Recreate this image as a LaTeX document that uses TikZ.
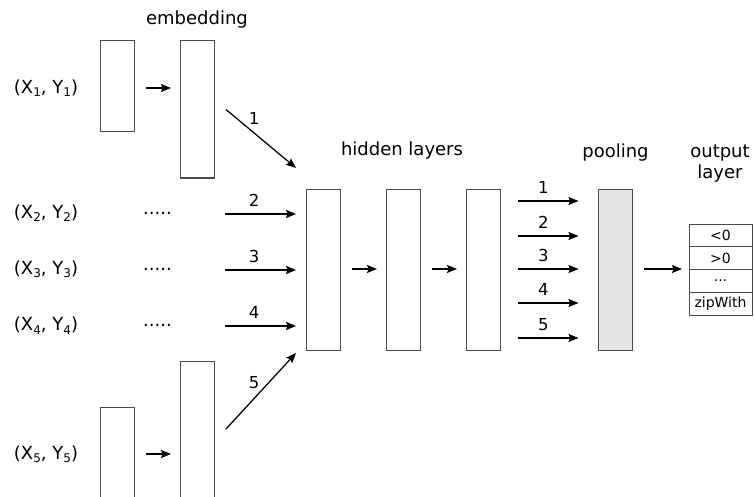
\documentclass[tikz,border=0pt]{standalone}
\usepackage{fontspec}
\setmainfont{DejaVu Sans}
\usetikzlibrary{arrows.meta}
% lowered, smaller index for the (X_i, Y_i) pairs
\newcommand\sbs[1]{\raisebox{-0.35ex}{\fontsize{12}{12}\selectfont #1}}

\begin{document}
\begin{tikzpicture}[x=1pt,y=-1pt,
  layerbox/.style={draw=black!70, line width=1pt, minimum width=34pt,
    inner sep=0pt, outer sep=0pt},
  arr/.style={-{Stealth[length=10pt,width=8pt,inset=1.5pt]}, line width=1.25pt},
  lbl/.style={font=\fontsize{18}{21}\selectfont},
  num/.style={font=\fontsize{16.5}{19}\selectfont, inner sep=0pt},
  cell/.style={draw=black!70, line width=1pt, minimum width=63pt,
    minimum height=22.75pt, inner sep=0pt, outer sep=0pt,
    font=\fontsize{14}{16}\selectfont}]
\useasboundingbox (0,0) rectangle (754,497);
\clip (0,0) rectangle (754,497);

% input pairs
\node[lbl] (x1) at (46,88) {(X\sbs1, Y\sbs1)};
\node[lbl] (x2) at (46,213) {(X\sbs2, Y\sbs2)};
\node[lbl] (x3) at (46,269.5) {(X\sbs3, Y\sbs3)};
\node[lbl] (x4) at (46,325.5) {(X\sbs4, Y\sbs4)};
\node[lbl] (x5) at (46,454) {(X\sbs5, Y\sbs5)};

% elided embeddings
\node[lbl, anchor=base] (d2) at (157.5,214) {.....};
\node[lbl, anchor=base] (d3) at (157.5,270) {.....};
\node[lbl, anchor=base] (d4) at (157.5,326) {.....};

% embedding columns
\node[lbl, anchor=base] (emb) at (197,25) {embedding};
\node[layerbox, minimum height=91pt] (s1) at (117,86.5) {};
\node[layerbox, minimum height=137pt] (e1) at (197,109.5) {};
\node[layerbox, minimum height=120pt] (s5) at (117,467) {};
\node[layerbox, minimum height=170pt] (e5) at (197,446) {};

% hidden layers and pooling
\node[lbl, anchor=base] (hid) at (402,156) {hidden layers};
\node[layerbox, minimum height=161pt] (h1) at (323,269.5) {};
\node[layerbox, minimum height=161pt] (h2) at (403,269.5) {};
\node[layerbox, minimum height=161pt] (h3) at (483,269.5) {};
\node[lbl, anchor=base] (pl) at (615.5,157.5) {pooling};
\node[layerbox, minimum height=161pt, fill=black!10] (pool) at (615.5,269.5) {};

% output layer table
\node[lbl, anchor=base] (ol1) at (720,158) {output};
\node[lbl, anchor=base] (ol2) at (720,178.5) {layer};
\node[cell] (o1) at (720.5,235.4) {<0};
\node[cell, anchor=north] (o2) at (o1.south) {>0};
\node[cell, anchor=north] (o3) at (o2.south) {...};
\node[cell, anchor=north] (o4) at (o3.south) {zipWith};

% start points of the middle input arrows
\coordinate (r2) at (225,214);
\coordinate (r3) at (225,270);
\coordinate (r4) at (225,326);

% connectors
\draw[arr, shorten <=12pt, shorten >=9pt] (s1.east |- x1) -- (e1.west |- x1);
\draw[arr, shorten <=12pt, shorten >=9pt] (s5.east |- x5) -- (e5.west |- x5);

\draw[arr] ([xshift=12pt]e1.east) -- ([xshift=-10pt,yshift=21pt]h1.north west)
  node[num, pos=0.4, above=8pt] {1};
\draw[arr, shorten >=10pt] (r2) -- (h1.west |- r2) node[num, pos=0.36, above=7pt] {2};
\draw[arr, shorten >=10pt] (r3) -- (h1.west |- r3) node[num, pos=0.36, above=7pt] {3};
\draw[arr, shorten >=10pt] (r4) -- (h1.west |- r4) node[num, pos=0.36, above=7pt] {4};
\draw[arr] ([xshift=12pt,yshift=-68pt]e5.north east) -- ([xshift=-10pt,yshift=-3pt]h1.south west)
  node[num, pos=0.4, above=9pt] {5};

\draw[arr, shorten <=12pt, shorten >=9pt] ([yshift=0.5pt]h1.east) -- ([yshift=0.5pt]h2.west);
\draw[arr, shorten <=12pt, shorten >=9pt] ([yshift=0.5pt]h2.east) -- ([yshift=0.5pt]h3.west);

\foreach \i/\dy in {1/68.5, 2/33.5, 3/0.5, 4/-33.5, 5/-68.5}
  \draw[arr] ([xshift=18pt,yshift=\dy pt]h3.east) -- ([xshift=-20pt,yshift=\dy pt]pool.west)
    node[num, pos=0.42, above=6.5pt] {\i};

\draw[arr, shorten <=11pt, shorten >=7pt] ([yshift=0.5pt]pool.east |- o2.south)
  -- ([yshift=0.5pt]o2.south west);
\end{tikzpicture}
\end{document}
